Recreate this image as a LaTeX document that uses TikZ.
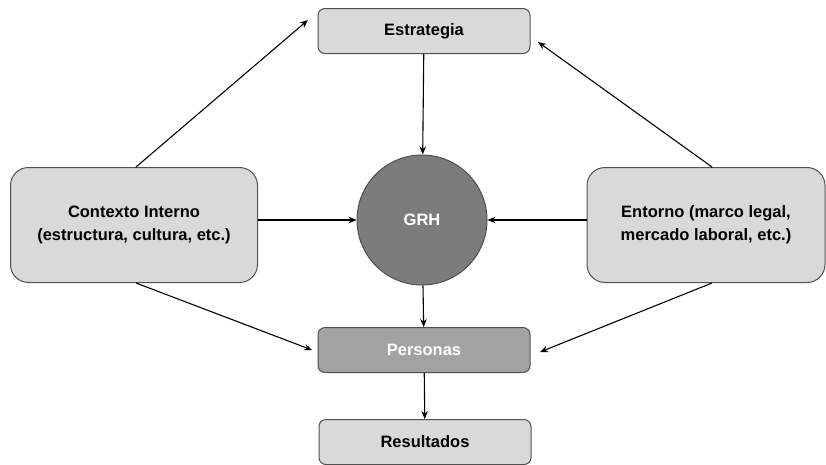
\documentclass[tikz,border=0pt]{standalone}
\usepackage{fontspec}
\setmainfont{Liberation Sans}
\usetikzlibrary{arrows.meta,positioning}
\definecolor{boxfill}{HTML}{D9D9D9}
\definecolor{darkfill}{HTML}{A2A2A2}
\definecolor{circfill}{HTML}{7C7C7C}
\definecolor{edge}{HTML}{505050}
\begin{document}
\begin{tikzpicture}[x=1pt,y=-1pt,
  smallbox/.style={draw=edge,line width=1pt,fill=boxfill,rounded corners=7pt,
    minimum width=212pt,minimum height=45pt,inner sep=0pt,
    font=\fontsize{16.5}{20}\selectfont\bfseries},
  bigbox/.style={draw=edge,line width=1pt,fill=boxfill,rounded corners=18pt,
    minimum width=247pt,minimum height=115pt,inner sep=0pt,align=center,
    font=\fontsize{16.5}{23}\selectfont\bfseries},
  conn/.style={draw=black,line width=1.1pt,-{Stealth[length=8pt,width=6.5pt]}}]
\useasboundingbox (0,0) rectangle (826,464);
\node[smallbox] (est) at (424,31) {Estrategia};
\node[bigbox] (ctx) at (134,225) {Contexto Interno\\(estructura, cultura, etc.)};
\node[bigbox,minimum width=238pt] (ent) at (706,225) {Entorno (marco legal,\\mercado laboral, etc.)};
\node[circle,draw=edge,line width=1pt,fill=circfill,minimum size=130pt,inner sep=0pt,
  text=white,font=\fontsize{16.5}{20}\selectfont\bfseries] (grh) at (422,220) {GRH};
\node[smallbox,fill=darkfill,text=white] (per) at (424,350) {Personas};
\node[smallbox] (res) at (425,442) {Resultados};
\coordinate (estL) at (308,20);
\coordinate (estR) at (538,42);
\coordinate (perL) at (312,350);
\coordinate (perR) at (540,352);
\draw[conn] (est) -- (grh);
\draw[conn] (grh) -- (per);
\draw[conn] (per) -- (res);
\draw[conn] (ctx.east |- grh) -- (grh);
\draw[conn] (ent.west |- grh) -- (grh);
\draw[conn] (ctx.north -| 136,0) -- (estL);
\draw[conn] (ent.north -| 712,0) -- (estR);
\draw[conn] (ctx.south -| 136,0) -- (perL);
\draw[conn] (ent.south -| 712,0) -- (perR);
\end{tikzpicture}
\end{document}
